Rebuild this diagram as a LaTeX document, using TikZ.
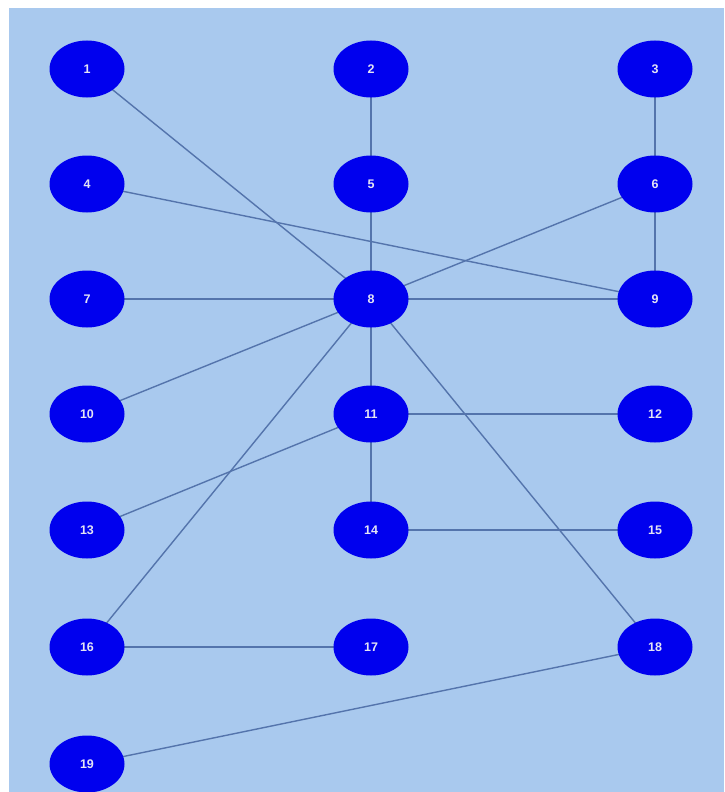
\documentclass[tikz,border=0pt]{standalone}
\usepackage{fontspec}
\setmainfont{Liberation Sans}
\definecolor{bgblue}{HTML}{A9C9EE}
\definecolor{nodeblue}{HTML}{0000EE}
\definecolor{edgecol}{HTML}{5474AC}
\definecolor{labcol}{HTML}{E4E4F4}
\tikzset{
  vtx/.style={ellipse, fill=nodeblue, minimum width=75pt, minimum height=57pt, inner sep=0pt, text=labcol, font=\bfseries\fontsize{12.5}{14}\selectfont},
  edge/.style={draw=edgecol, line width=1.4pt}
}
\usetikzlibrary{shapes.geometric}
\begin{document}
\begin{tikzpicture}[x=1pt,y=-1pt]
\useasboundingbox (0,0) rectangle (724,792);
\fill[white] (0,0) rectangle (724,792);
\fill[bgblue] (9,8) rectangle (724,792);
\foreach \n/\x/\y in {1/87/69,2/371/69,3/655/69,4/87/184,5/371/184,6/655/184,7/87/299,8/371/299,9/655/299,10/87/414,11/371/414,12/655/414,13/87/530,14/371/530,15/655/530,16/87/647,17/371/647,18/655/647,19/87/764}{
  \coordinate (c\n) at (\x,\y);
}
\foreach \a/\b in {1/8,2/5,5/8,3/6,6/9,4/9,6/8,7/8,8/9,8/10,8/11,8/16,8/18,11/12,11/13,11/14,14/15,16/17,18/19}{
  \draw[edge] (c\a) -- (c\b);
}
\foreach \n in {1,...,19}{
  \node[vtx] (n\n) at (c\n) {\n};
}
\end{tikzpicture}
\end{document}
